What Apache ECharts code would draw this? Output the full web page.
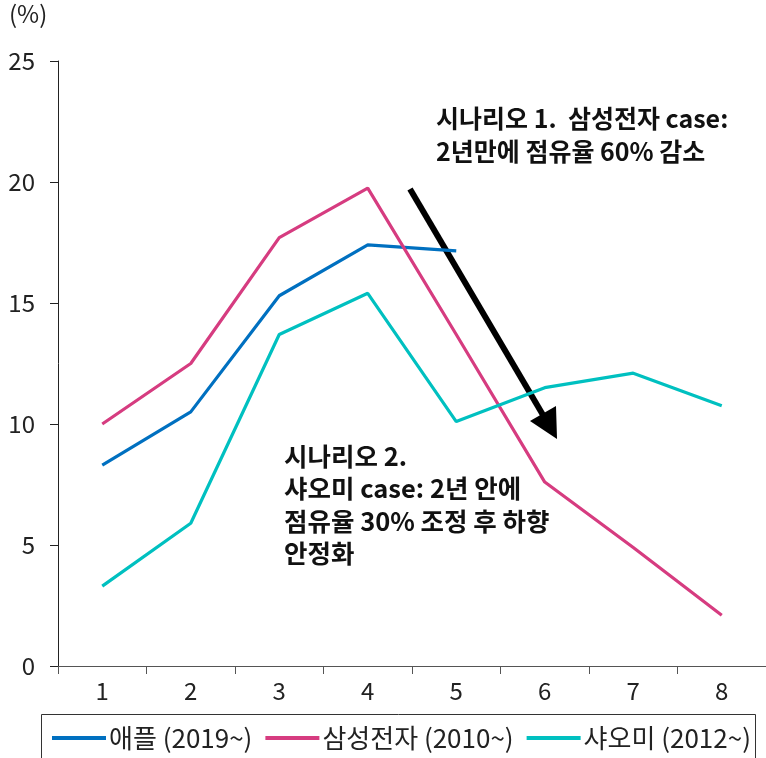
<!DOCTYPE html>
<html><head><meta charset="utf-8">
<script src="https://cdn.jsdelivr.net/npm/echarts@6/dist/echarts.min.js"></script>
<style>html,body{margin:0;padding:0;background:#fff}#c{width:766px;height:758px}</style>
</head><body><div id="c"></div>
<script>
const categories = ['1','2','3','4','5','6','7','8'];
const apple = [8.3, 10.5, 15.3, 17.4, 17.15, null, null, null];
const samsung = [10.0, 12.5, 17.7, 19.75, 13.7, 7.6, 4.9, 2.1];
const xiaomi = [3.3, 5.9, 13.7, 15.4, 10.1, 11.5, 12.1, 10.75];
const seriesNames = ['애플 (2019~)', '삼성전자 (2010~)', '샤오미 (2012~)'];
const colors = ['#0070C0', '#D63C80', '#00C0C0'];
const yTicks = {min: 0, max: 25, interval: 5};
const note1 = ['시나리오 1.  삼성전자 case:', '2년만에 점유율 60% 감소'];
const note2 = ['시나리오 2.', '샤오미 case: 2년 안에', '점유율 30% 조정 후 하향', '안정화'];

const FONT = '"Noto Sans CJK KR", "Noto Sans", sans-serif';
const chart = echarts.init(document.getElementById('c'));

function mkSeries(name, data, color) {
  return {name, type: 'line', data, symbol: 'none', connectNulls: false,
    lineStyle: {color, width: 3.2}, itemStyle: {color}};
}

chart.setOption({
  animation: false,
  textStyle: {fontFamily: FONT},
  grid: {left: 58, right: -4, top: 61, bottom: 92, containLabel: false},
  xAxis: {type: 'category', data: categories, boundaryGap: true,
    axisLine: {lineStyle: {color: '#555', width: 1}},
    axisTick: {show: true, length: 8, lineStyle: {color: '#555'}},
    axisLabel: {color: '#222', fontSize: 24, margin: 13, fontFamily: FONT}},
  yAxis: {type: 'value', min: yTicks.min, max: yTicks.max, interval: yTicks.interval,
    splitLine: {show: false},
    axisLine: {show: true, lineStyle: {color: '#222', width: 1}},
    axisTick: {show: true, length: 8, lineStyle: {color: '#222'}},
    axisLabel: {color: '#222', fontSize: 24, margin: 23, fontFamily: FONT}},
  legend: {show: true, top: 720, left: 47, itemGap: 13, itemWidth: 54, itemHeight: 4, icon: 'rect',
    textStyle: {fontSize: 26, color: '#222', fontFamily: FONT, padding: [0,0,0,-2]},
    data: seriesNames},
  series: [mkSeries(seriesNames[0], apple, colors[0]),
           mkSeries(seriesNames[1], samsung, colors[1]),
           mkSeries(seriesNames[2], xiaomi, colors[2])],
  graphic: [
    {type: 'rect', shape: {x: 41.5, y: 714.5, width: 714, height: 60}, style: {fill: 'none', stroke: '#333', lineWidth: 1}, z: -1},
    {type: 'text', left: 9, top: 2, style: {text: '(%)', font: '24px ' + FONT, fill: '#222'}},
    {type: 'text', left: 436, top: 102, style: {text: note1.join('\n'), font: 'bold 25px ' + FONT, lineHeight: 33, fill: '#111'}},
    {type: 'text', left: 284, top: 440, style: {text: note2.join('\n'), font: 'bold 25.5px ' + FONT, lineHeight: 32.5, fill: '#111'}},
    {type: 'line', shape: {x1: 410, y1: 189, x2: 543, y2: 415}, style: {stroke: '#000', lineWidth: 6}},
    {type: 'polygon', shape: {points: [[557, 439], [530, 421], [556, 406]]}, style: {fill: '#000'}}
  ]
});
</script></body></html>
